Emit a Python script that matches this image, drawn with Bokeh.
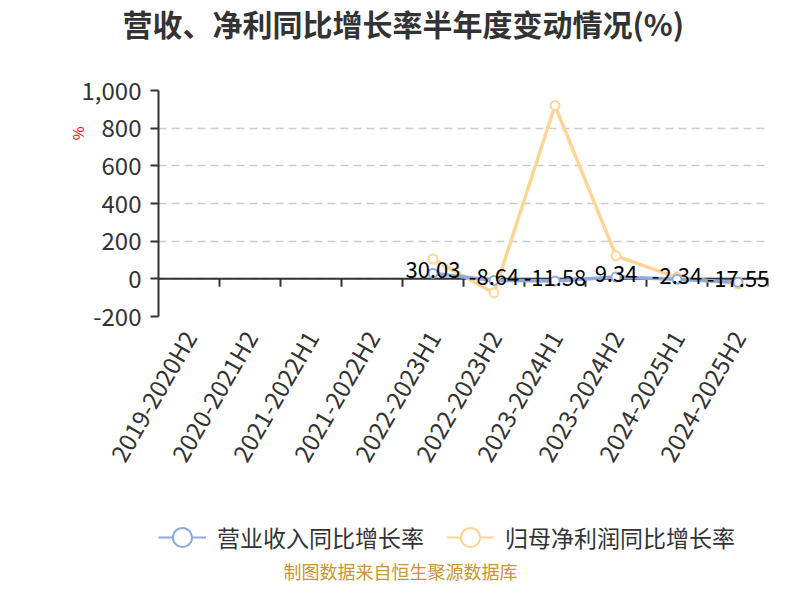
import math
from bokeh.plotting import figure
from bokeh.layouts import column
from bokeh.models import (Range1d, FixedTicker, NumeralTickFormatter, Span,
                          Legend, LegendItem, Title, Label)
from bokeh.core.properties import value
from bokeh.embed import file_html
from bokeh.resources import INLINE

NaN = float("nan")

# ---- data ----
categories = ["2019-2020H2", "2020-2021H2", "2021-2022H1", "2021-2022H2", "2022-2023H1",
              "2022-2023H2", "2023-2024H1", "2023-2024H2", "2024-2025H1", "2024-2025H2"]
revenue_growth = [NaN, NaN, NaN, NaN, 30.03, -8.64, -11.58, 9.34, -2.34, -17.55]
profit_growth = [NaN, NaN, NaN, NaN, 105.0, -75.0, 920.0, 122.0, 8.0, -27.0]
y_ticks = [-200, 0, 200, 400, 600, 800, 1000]
series_names = ["营业收入同比增长率", "归母净利润同比增长率"]
title_text = "营收、净利同比增长率半年度变动情况(%)"
unit_text = "%"
source_text = "制图数据来自恒生聚源数据库"

FONT = "Noto Sans CJK SC"
BLUE = "#8eaadb"
ORANGE = "#ffd596"
TXT = "#333333"
SERIES_COLORS = [BLUE, ORANGE]
SERIES_VALUES = [revenue_growth, profit_growth]

W = 784
H_MAIN, H_LEG = 500, 84

# ================= main chart =================
p = figure(width=W, height=H_MAIN, x_range=Range1d(0, len(categories)),
           y_range=Range1d(y_ticks[0], y_ticks[-1]),
           output_backend="svg", toolbar_location=None,
           min_border_left=158, min_border_right=16, min_border_top=90, min_border_bottom=184)
p.title.visible = False
p.outline_line_color = None
p.background_fill_color = "white"

xs = [i + 0.5 for i in range(len(categories))]

# y axis
p.yaxis.ticker = FixedTicker(ticks=y_ticks)
p.yaxis.formatter = NumeralTickFormatter(format="0,0")
p.yaxis.major_label_text_font = FONT
p.yaxis.major_label_text_font_size = "24px"
p.yaxis.major_label_text_color = TXT
p.yaxis.axis_line_color = TXT
p.yaxis.axis_line_width = 2
p.yaxis.major_tick_line_color = TXT
p.yaxis.major_tick_line_width = 2
p.yaxis.major_tick_out = 8
p.yaxis.major_tick_in = 0
p.yaxis.minor_tick_line_color = None
p.yaxis.major_label_standoff = 9

# x axis (labels only)
p.xaxis.ticker = FixedTicker(ticks=xs)
p.xaxis.major_label_overrides = {x: c for x, c in zip(xs, categories)}
p.xaxis.major_label_orientation = math.pi / 3
p.xaxis.major_label_text_font = FONT
p.xaxis.major_label_text_font_size = "24px"
p.xaxis.major_label_text_color = TXT
p.xaxis.axis_line_color = None
p.xaxis.major_tick_line_color = None
p.xaxis.major_tick_out = 0
p.xaxis.major_tick_in = 0
p.xaxis.minor_tick_line_color = None
p.xaxis.major_label_standoff = 16

# grid
p.xgrid.visible = False
p.ygrid.ticker = FixedTicker(ticks=y_ticks)
p.ygrid.grid_line_color = "#cccccc"
p.ygrid.grid_line_dash = "8 5"
p.ygrid.grid_line_width = 1.5

# zero axis line and category ticks
p.add_layout(Span(location=0, dimension="width", line_color=TXT, line_width=2, level="underlay"))
bounds = list(range(1, len(categories) + 1))
p.segment(x0=bounds, y0=[0] * len(bounds), x1=bounds, y1=[-42] * len(bounds),
          line_color=TXT, line_width=2)

# series
p.line(xs, profit_growth, line_color=ORANGE, line_width=3.5)
p.line(xs, revenue_growth, line_color=BLUE, line_width=3.5)
p.scatter(xs, profit_growth, size=9, fill_color="white", line_color=ORANGE, line_width=2)
p.scatter(xs, revenue_growth, size=9, fill_color="white", line_color=BLUE, line_width=2)

# data labels for revenue
lx = [x for x, v in zip(xs, revenue_growth) if not math.isnan(v)]
ly = [v for v in revenue_growth if not math.isnan(v)]
lt = [f"{v:.2f}" for v in ly]
p.text(lx, ly, text=lt, text_align="center", text_baseline="middle", y_offset=-3,
       text_font=value(FONT), text_font_size="22px", text_color="black")

# above panel: spacer next to the frame, then the chart title
p.add_layout(Title(text=" ", text_font_size="10px", standoff=32), "above")
p.add_layout(Title(text=title_text, align="left", offset=-36, vertical_align="top",
                   standoff=-2, text_font=FONT, text_font_size="30px",
                   text_font_style="bold", text_color=TXT), "above")

# left panel: unit mark
p.add_layout(Title(text=unit_text, align="right", offset=36, vertical_align="bottom",
                   standoff=-19, text_font=FONT, text_font_size="15px",
                   text_font_style="normal", text_color="red"), "left")

# ================= legend / source strip =================
# (its frame is aligned with the main chart's frame by the column layout)
q = figure(width=W, height=H_LEG, x_range=Range1d(-1, 0), y_range=Range1d(2000, 3000),
           output_backend="svg", toolbar_location=None,
           x_axis_location=None, y_axis_location=None,
           min_border_left=0, min_border_right=0, min_border_top=0, min_border_bottom=0)
q.title.visible = False
q.outline_line_color = None
q.grid.visible = False

items = []
for name, col, vals in zip(series_names, SERIES_COLORS, SERIES_VALUES):
    # same series, but outside this strip's ranges: only the legend swatch shows
    lr = q.line(xs, vals, line_color=col, line_width=2)
    sr = q.scatter(xs, vals, size=18, fill_color="white", line_color=col, line_width=2)
    items.append(LegendItem(label=name, renderers=[lr, sr]))
legend = Legend(items=items, orientation="horizontal", location=(0, 22),
                glyph_width=48, glyph_height=50, label_standoff=11, spacing=22,
                padding=0, margin=0, border_line_color=None, background_fill_alpha=0,
                label_text_font=FONT, label_text_font_size="23px", label_text_color=TXT)
q.add_layout(legend, "center")

q.add_layout(Label(x=242, y=14, x_units="screen", y_units="screen", text=source_text,
                   text_align="center", text_baseline="middle", text_font=FONT,
                   text_font_size="18px", text_color="#c8952e"))

layout = column(p, q, spacing=0)
open("out.html", "w").write(file_html(layout, INLINE))
